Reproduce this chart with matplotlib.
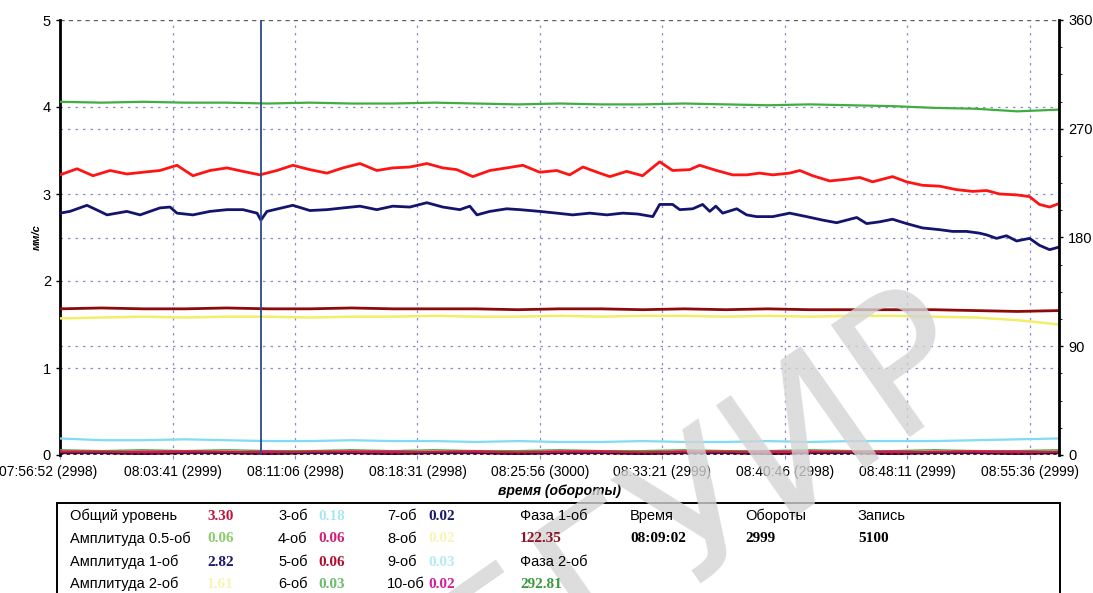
import matplotlib
matplotlib.use("Agg")
import matplotlib.pyplot as plt
import matplotlib.transforms as mtransforms
import numpy as np

# time axis: seconds since 07:56:52
T_END = 3630
TICK_SEC = [0, 409, 854, 1299, 1744, 2189, 2634, 3079, 3524]
TICK_LABELS = ["07:56:52 (2998)", "08:03:41 (2999)", "08:11:06 (2998)",
               "08:18:31 (2998)", "08:25:56 (3000)", "08:33:21 (2999)",
               "08:40:46 (2998)", "08:48:11 (2999)", "08:55:36 (2999)"]
CURSOR_SEC = 730  # 08:09:02

# общий уровень (red)
level_t = [0, 62, 120, 182, 243, 301, 363, 425, 483, 545, 607, 665, 726, 788,
           846, 908, 970, 1028, 1090, 1151, 1209, 1271, 1333, 1391, 1442, 1500,
           1562, 1623, 1682, 1743, 1805, 1852, 1900, 1961, 1998, 2059, 2117,
           2179, 2226, 2288, 2324, 2386, 2444, 2495, 2542, 2590, 2651, 2688,
           2735, 2797, 2858, 2906, 2953, 3025, 3076, 3134, 3196, 3258, 3316,
           3367, 3414, 3476, 3523, 3559, 3596, 3630]
level_v = [3.22, 3.29, 3.21, 3.27, 3.23, 3.25, 3.27, 3.33, 3.21, 3.27, 3.30,
           3.26, 3.22, 3.27, 3.33, 3.28, 3.24, 3.30, 3.35, 3.27, 3.30, 3.31,
           3.35, 3.30, 3.28, 3.20, 3.27, 3.30, 3.33, 3.25, 3.27, 3.22, 3.31,
           3.24, 3.20, 3.26, 3.21, 3.37, 3.27, 3.28, 3.33, 3.27, 3.22, 3.22,
           3.24, 3.22, 3.24, 3.27, 3.21, 3.15, 3.17, 3.19, 3.14, 3.20, 3.14,
           3.10, 3.09, 3.05, 3.03, 3.04, 3.00, 2.99, 2.97, 2.88, 2.85, 2.89]

# амплитуда 1-об (navy)
amp1_t = [0, 36, 98, 145, 171, 243, 291, 363, 400, 425, 483, 545, 607, 665,
          716, 730, 752, 846, 908, 970, 1028, 1090, 1151, 1209, 1271, 1333,
          1391, 1453, 1489, 1515, 1562, 1623, 1671, 1743, 1805, 1863, 1925,
          1987, 2045, 2099, 2154, 2179, 2226, 2252, 2299, 2335, 2361, 2383,
          2408, 2459, 2495, 2531, 2590, 2651, 2713, 2771, 2822, 2895, 2931,
          2978, 3025, 3076, 3134, 3196, 3243, 3294, 3341, 3367, 3403, 3439,
          3476, 3523, 3559, 3596, 3630]
amp1_v = [2.78, 2.80, 2.87, 2.80, 2.76, 2.80, 2.76, 2.84, 2.85, 2.78, 2.76,
          2.80, 2.82, 2.82, 2.78, 2.70, 2.80, 2.87, 2.81, 2.82, 2.84, 2.86,
          2.82, 2.86, 2.85, 2.90, 2.85, 2.82, 2.86, 2.76, 2.80, 2.83, 2.82,
          2.80, 2.78, 2.76, 2.78, 2.76, 2.78, 2.77, 2.74, 2.88, 2.88, 2.82,
          2.83, 2.88, 2.80, 2.86, 2.78, 2.83, 2.76, 2.74, 2.74, 2.78, 2.74,
          2.70, 2.67, 2.73, 2.66, 2.68, 2.71, 2.66, 2.61, 2.59, 2.57, 2.57,
          2.55, 2.53, 2.49, 2.52, 2.46, 2.49, 2.41, 2.36, 2.39]

# slow series, evenly sampled over the record
phase2_v = [4.06, 4.05, 4.06, 4.05, 4.05, 4.04, 4.05, 4.04, 4.04, 4.05, 4.04,
            4.03, 4.04, 4.03, 4.03, 4.04, 4.03, 4.02, 4.03, 4.02, 4.01, 3.99,
            3.98, 3.95, 3.97]
phase1_v = [1.68, 1.69, 1.68, 1.68, 1.69, 1.68, 1.68, 1.69, 1.68, 1.68, 1.68,
            1.67, 1.68, 1.68, 1.67, 1.68, 1.67, 1.68, 1.67, 1.67, 1.67, 1.67,
            1.66, 1.65, 1.66]
amp2_v = [1.57, 1.58, 1.59, 1.58, 1.59, 1.59, 1.58, 1.59, 1.59, 1.60, 1.59,
          1.59, 1.60, 1.59, 1.60, 1.60, 1.59, 1.60, 1.59, 1.60, 1.60, 1.59,
          1.58, 1.55, 1.50]
h3_v = [0.19, 0.17, 0.17, 0.18, 0.17, 0.16, 0.16, 0.17, 0.16, 0.16, 0.15,
        0.16, 0.15, 0.15, 0.16, 0.15, 0.15, 0.16, 0.15, 0.16, 0.16, 0.16,
        0.17, 0.18, 0.19]
h05_v = [0.06, 0.05, 0.06, 0.05, 0.06, 0.05, 0.05, 0.06, 0.05, 0.06, 0.05,
         0.05, 0.06, 0.05, 0.05, 0.06, 0.05, 0.05, 0.06, 0.05, 0.05, 0.06,
         0.05, 0.05, 0.06]
h4_v = [0.04, 0.03, 0.04, 0.04, 0.03, 0.04, 0.03, 0.04, 0.04, 0.03, 0.04,
        0.03, 0.04, 0.04, 0.03, 0.04, 0.03, 0.04, 0.04, 0.03, 0.04, 0.03,
        0.04, 0.04, 0.03]
h5_v = [0.03, 0.03, 0.02, 0.03, 0.03, 0.02, 0.03, 0.03, 0.02, 0.03, 0.03,
        0.02, 0.03, 0.03, 0.02, 0.03, 0.03, 0.02, 0.03, 0.03, 0.02, 0.03,
        0.03, 0.02, 0.03]
h7_v = [0.02, 0.02, 0.01, 0.02, 0.02, 0.01, 0.02, 0.02, 0.01, 0.02, 0.02,
        0.01, 0.02, 0.02, 0.01, 0.02, 0.02, 0.01, 0.02, 0.02, 0.01, 0.02,
        0.02, 0.01, 0.02]

# info panel under the plot: (label, value, value colour)
panel_rows = [
    [("Общий уровень", "3.30", "#c0143c"), ("3-об", "0.18", "#a8e8f2"),
     ("7-об", "0.02", "#1a1a6e")],
    [("Амплитуда 0.5-об", "0.06", "#8ccc6c"), ("4-об", "0.06", "#d0207a"),
     ("8-об", "0.02", "#f8f4b8")],
    [("Амплитуда 1-об", "2.82", "#1a1a6e"), ("5-об", "0.06", "#b01030"),
     ("9-об", "0.03", "#b4ecf4")],
    [("Амплитуда 2-об", "1.61", "#f8f4b8"), ("6-об", "0.03", "#6cbc6c"),
     ("10-об", "0.02", "#d020a0")],
]
phase_items = [("Фаза 1-об", "122.35", "#8b1428"), ("Фаза 2-об", "292.81", "#3c9a3c")]
status_items = [("Время", "08:09:02"), ("Обороты", "2999"), ("Запись", "5100")]

plt.rcParams["font.family"] = ["Liberation Sans", "DejaVu Sans"]

W, H = 1093, 593
fig = plt.figure(figsize=(W / 100, H / 100), dpi=100)
ax = fig.add_axes([60 / W, 1 - 455 / H, (1059 - 60) / W, (455 - 20) / H])

slow_t = np.linspace(0, T_END, len(phase2_v))

# grid
for yv in [1, 1.25, 2, 2.5, 3, 3.75, 4]:
    ax.axhline(yv, color="#8c8cc8", lw=0.9, ls=(0, (2, 4)), zorder=1)
ax.axhline(5, color="#606060", lw=1.0, ls=(0, (3, 3)), zorder=1)
for xv in TICK_SEC[1:]:
    ax.axvline(xv, color="#8c8cc8", lw=0.9, ls=(0, (2, 4)), zorder=1)

ax.plot(slow_t, phase2_v, color="#3fae3f", lw=1.6, zorder=3)
ax.plot(level_t, level_v, color="#ff1414", lw=2.0, zorder=3)
ax.plot(amp1_t, amp1_v, color="#14146e", lw=2.0, zorder=3)
ax.plot(slow_t, phase1_v, color="#8b0a0a", lw=2.0, zorder=4)
ax.plot(slow_t, amp2_v, color="#f2ee6a", lw=1.8, zorder=3)
ax.plot(slow_t, h3_v, color="#80dcf0", lw=1.6, zorder=3)
ax.plot(slow_t, h05_v, color="#3fae3f", lw=1.0, zorder=3)
ax.plot(slow_t, h4_v, color="#d0207a", lw=1.6, zorder=3)
ax.plot(slow_t, h5_v, color="#e8103c", lw=2.6, zorder=3)
ax.plot(slow_t, h7_v, color="#14146e", lw=0.8, zorder=3)
ax.axhline(0.01, color="#111111", lw=1.2, ls=(0, (2, 2)), zorder=4)

ax.axvline(CURSOR_SEC, color="#2a4a8a", lw=1.3, zorder=5)

ax.set_xlim(0, T_END)
ax.set_ylim(0, 5)
ax.set_yticks([0, 1, 2, 3, 4, 5])
ax.set_xticks(TICK_SEC)
ax.set_xticklabels(TICK_LABELS, fontsize=10)
ax.tick_params(axis="y", labelsize=10.5, length=3, width=1)
ax.tick_params(axis="x", length=3, width=0.8, color="#8c8cc8", pad=4)
for s in ["top", "bottom"]:
    ax.spines[s].set_visible(False)
ax.spines["left"].set_linewidth(2.0)
ax.set_ylabel("мм/с", fontsize=8, fontweight="bold", fontstyle="italic", labelpad=1)
ax.set_xlabel("время (обороты)", fontsize=10, fontweight="bold",
              fontstyle="italic", labelpad=4)

ax2 = ax.twinx()
ax2.set_ylim(0, 360)
ax2.set_yticks([0, 90, 180, 270, 360])
ax2.set_yticks(np.arange(0, 361, 22.5), minor=True)
ax2.tick_params(axis="y", labelsize=10.5, length=3, width=1)
ax2.tick_params(axis="y", which="minor", length=2)
for s in ["top", "bottom", "left"]:
    ax2.spines[s].set_visible(False)
ax2.spines["right"].set_linewidth(2.0)

# info panel
box = plt.Rectangle((57 / W, -0.05), (1060 - 57) / W, 0.05 + 1 - 503 / H,
                    transform=fig.transFigure, fill=False, lw=1.4, ec="black")
fig.add_artist(box)

LAB_FS, VAL_FS = 10.5, 11
row_y = [516, 539, 562, 584]
col_lab = [70, 278, 387]
col_val = [207, 318, 428]
for r, row in enumerate(panel_rows):
    for c, (lab, val, col) in enumerate(row):
        fig.text(col_lab[c] / W, 1 - row_y[r] / H, lab, fontsize=LAB_FS,
                 va="center", ha="left", zorder=4)
        fig.text(col_val[c] / W, 1 - row_y[r] / H, val, fontsize=VAL_FS,
                 va="center", ha="left", color=col, fontweight="bold",
                 family="Liberation Serif", zorder=4)

for i, (lab, val, col) in enumerate(phase_items):
    fig.text(520 / W, 1 - row_y[2 * i] / H, lab, fontsize=LAB_FS, va="center", zorder=4)
    fig.text(520 / W, 1 - row_y[2 * i + 1] / H, val, fontsize=VAL_FS, va="center",
             color=col, fontweight="bold", family="Liberation Serif", zorder=4)

for x0, (lab, val) in zip([630, 745, 858], status_items):
    fig.text(x0 / W, 1 - row_y[0] / H, lab, fontsize=LAB_FS, va="center", zorder=4)
    fig.text(x0 / W, 1 - row_y[1] / H, val, fontsize=VAL_FS, va="center",
             fontweight="bold", family="Liberation Serif", zorder=4)

# watermark
fig.text(705 / W, 1 - 505 / H, "БГУИР", fontsize=135, rotation=35,
         color="#d4d4d4", alpha=0.8, ha="center", va="center",
         family="DejaVu Sans", zorder=3)

# first time label sits slightly off the left edge, as in the original screen
fig.canvas.draw()
first = ax.xaxis.get_majorticklabels()[0]
first.set_transform(first.get_transform() +
                    mtransforms.ScaledTranslation(-0.12, 0, fig.dpi_scale_trans))

fig.savefig("out.png", dpi=100)
